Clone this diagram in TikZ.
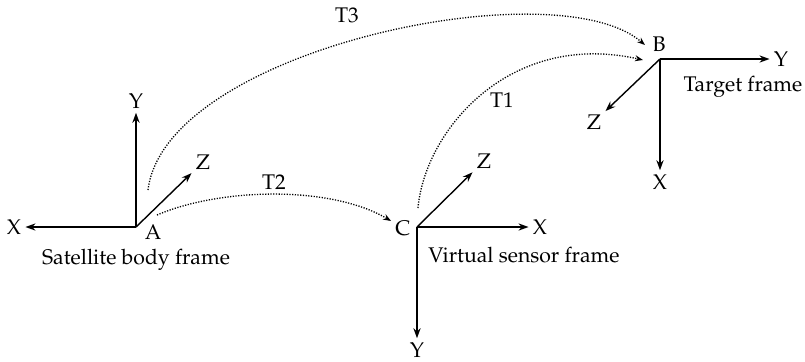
\documentclass[tikz,border=0pt]{standalone}
\usepackage[T1]{fontenc}
\usepackage{mathpazo}
\usetikzlibrary{arrows.meta}

\begin{document}
\begin{tikzpicture}[
  x=0.5pt, y=-0.5pt,
  every node/.style={inner sep=2pt, font=\fontsize{10.6}{12}\selectfont},
  axis/.style={-{Stealth[length=5pt,width=3.6pt]}, line width=0.7pt},
  link/.style={-{Stealth[length=4pt,width=3pt]}, dash pattern=on 0.6pt off 0.75pt, line width=0.65pt}
]
\useasboundingbox (0,0) rectangle (805,361);

% satellite body frame
\coordinate (A) at (136,227);
\node (Albl) at (153,232) {A};
\node (AX) at (14,227) {X};
\node (AY) at (136,101) {Y};
\node (AZ) at (203,162) {Z};
\node (Aname) at (136,260) {Satellite body frame};
\draw[axis] (A) -- (AX);
\draw[axis] (A) -- (AY);
\draw[axis] (A) -- (AZ);

% virtual sensor frame
\coordinate (C) at (417,227);
\node (Clbl) at (403,228) {C};
\node (CX) at (540,227) {X};
\node (CY) at (417,350) {Y};
\node (CZ) at (484,161) {Z};
\node (Cname) at (524,255) {Virtual sensor frame};
\draw[axis] (C) -- (CX);
\draw[axis] (C) -- (CY);
\draw[axis] (C) -- (CZ);

% target frame
\coordinate (B) at (660,59);
\node (Blbl) at (659,44) {B};
\node (BX) at (660,182) {X};
\node (BY) at (781,59) {Y};
\node (BZ) at (594,122) {Z};
\node (Bname) at (743,87) {Target frame};
\draw[axis] (B) -- (BX);
\draw[axis] (B) -- (BY);
\draw[axis] (B) -- (BZ);

% transformations
\coordinate (t3s) at (148,190);
\coordinate (t3e) at (645,45);
\coordinate (t1s) at (418,208);
\coordinate (t1e) at (643,60);
\coordinate (t2s) at (157,215);
\draw[link] (t3s) .. controls (165,50) and (555,-32) .. (t3e);
\draw[link] (t1s) .. controls (425,130) and (510,30) .. (t1e);
\draw[link] (t2s) .. controls (220,188) and (330,185) .. (Clbl);
\node (T3) at (347,15) {T3};
\node (T1) at (502,100) {T1};
\node (T2) at (274,182) {T2};

\end{tikzpicture}
\end{document}
